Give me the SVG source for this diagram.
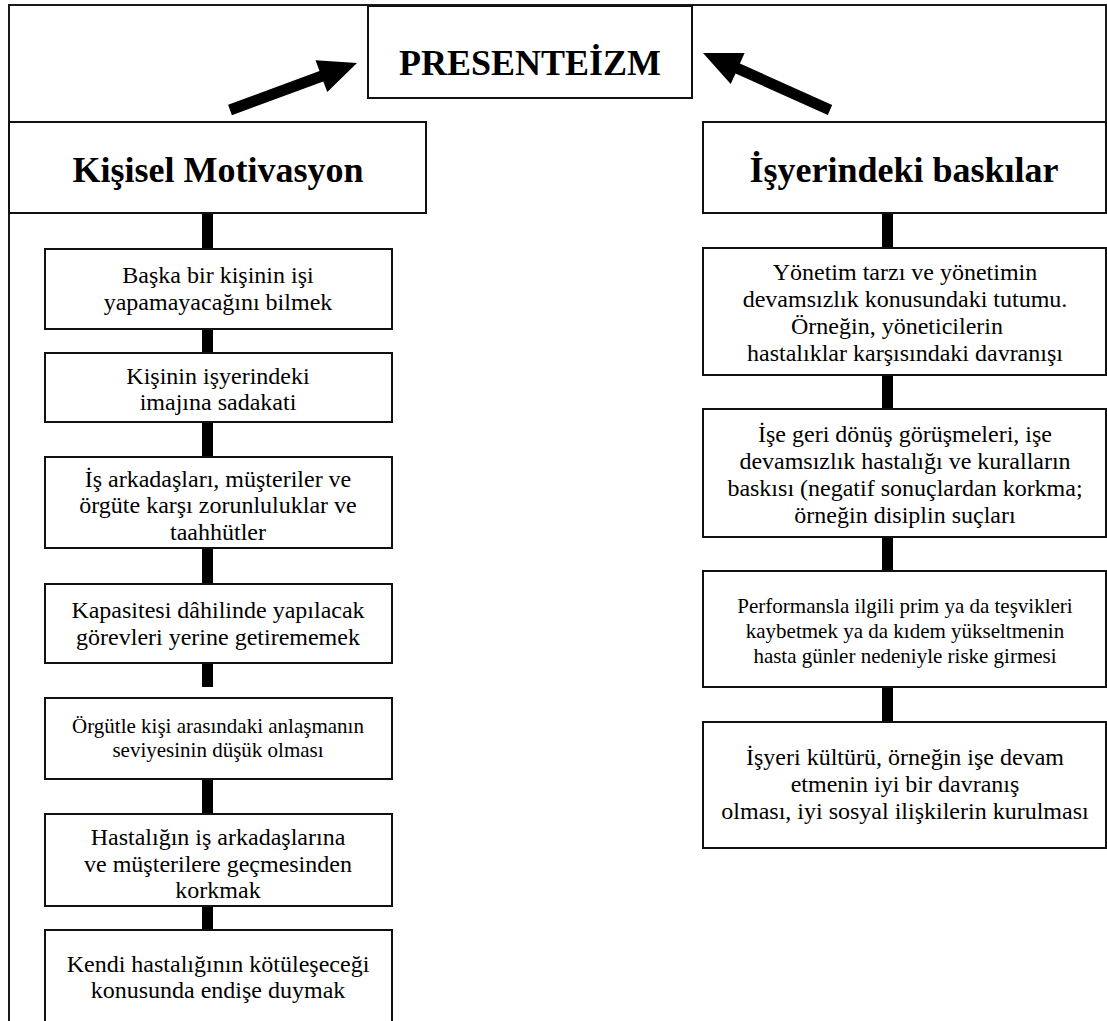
<svg xmlns="http://www.w3.org/2000/svg" width="1107" height="1021" viewBox="0 0 1107 1021">
<style>
.box{fill:#fff;stroke:#111;stroke-width:2}
.frame{fill:none;stroke:#1a1a1a;stroke-width:2}
.t{font-family:"Liberation Serif","Times New Roman",serif;fill:#000;text-anchor:middle}
.n{font-size:24px}
.s{font-size:21px}
.h{font-size:36px;font-weight:bold}
.bar{fill:#000}
</style>
<rect width="1107" height="1021" fill="#fff"/>
<g id="frame">
<path class="frame" d="M9,1021 V5 H1106 V122"/>
</g>
<g id="connectors">
<polygon class="bar" points="231.9,115.2 323.3,81.4 327.3,92.1 357,63 315.5,60.3 319.5,71 228.1,104.8"/>
<polygon class="bar" points="827.8,115 735.5,73.5 730.7,84 703,53 744.6,53 739.9,63.5 832.2,105"/>
<rect class="bar" x="202" y="213" width="11" height="35"/>
<rect class="bar" x="202" y="329" width="11" height="24"/>
<rect class="bar" x="202" y="422" width="11" height="35"/>
<rect class="bar" x="202" y="548" width="11" height="36"/>
<rect class="bar" x="202" y="663" width="11" height="24"/>
<rect class="bar" x="202" y="779" width="11" height="35"/>
<rect class="bar" x="202" y="906" width="11" height="24"/>
<rect class="bar" x="882" y="213" width="11" height="35"/>
<rect class="bar" x="882" y="375" width="11" height="34"/>
<rect class="bar" x="882" y="537" width="11" height="34"/>
<rect class="bar" x="882" y="687" width="11" height="35"/>
</g>
<g id="presenteizm">
<rect class="box" x="368" y="6" width="324" height="92"/>
<text class="t h" x="530" y="75">PRESENTEİZM</text>
</g>
<g id="kisisel-motivasyon">
<rect class="box" x="9" y="122" width="417" height="91"/>
<text class="t h" x="218" y="182">Kişisel Motivasyon</text>
</g>
<g id="isyerindeki-baskilar">
<rect class="box" x="703" y="122" width="403" height="91"/>
<text class="t h" x="904" y="182">İşyerindeki baskılar</text>
</g>
<g id="l1">
<rect class="box" x="45" y="249" width="347" height="80"/>
<text class="t n" x="218" y="283">Başka bir kişinin işi</text>
<text class="t n" x="218" y="310">yapamayacağını bilmek</text>
</g>
<g id="l2">
<rect class="box" x="45" y="353" width="347" height="69"/>
<text class="t n" x="218" y="384">Kişinin işyerindeki</text>
<text class="t n" x="218" y="410">imajına sadakati</text>
</g>
<g id="l3">
<rect class="box" x="45" y="457" width="347" height="91"/>
<text class="t n" x="218" y="487">İş arkadaşları, müşteriler ve</text>
<text class="t n" x="218" y="513">örgüte karşı zorunluluklar ve</text>
<text class="t n" x="218" y="540">taahhütler</text>
</g>
<g id="l4">
<rect class="box" x="45" y="584" width="347" height="79"/>
<text class="t n" x="218" y="618">Kapasitesi dâhilinde yapılacak</text>
<text class="t n" x="218" y="645">görevleri yerine getirememek</text>
</g>
<g id="l5">
<rect class="box" x="45" y="698" width="347" height="81"/>
<text class="t s" x="218" y="733">Örgütle kişi arasındaki anlaşmanın</text>
<text class="t s" x="218" y="757">seviyesinin düşük olması</text>
</g>
<g id="l6">
<rect class="box" x="45" y="814" width="347" height="92"/>
<text class="t n" x="218" y="845">Hastalığın iş arkadaşlarına</text>
<text class="t n" x="218" y="872">ve müşterilere geçmesinden</text>
<text class="t n" x="218" y="898">korkmak</text>
</g>
<g id="l7">
<rect class="box" x="45" y="930" width="347" height="100"/>
<text class="t n" x="218" y="972">Kendi hastalığının kötüleşeceği</text>
<text class="t n" x="218" y="998">konusunda endişe duymak</text>
</g>
<g id="r1">
<rect class="box" x="703" y="248" width="403" height="127"/>
<text class="t n" x="905" y="280">Yönetim tarzı ve yönetimin</text>
<text class="t n" x="905" y="307">devamsızlık konusundaki tutumu.</text>
<text class="t n" x="897" y="334">Örneğin, yöneticilerin</text>
<text class="t n" x="905" y="361">hastalıklar karşısındaki davranışı</text>
</g>
<g id="r2">
<rect class="box" x="703" y="409" width="403" height="128"/>
<text class="t n" x="905" y="442">İşe geri dönüş görüşmeleri, işe</text>
<text class="t n" x="905" y="469">devamsızlık hastalığı ve kuralların</text>
<text class="t n" x="905" y="496">baskısı (negatif sonuçlardan korkma;</text>
<text class="t n" x="905" y="523">örneğin disiplin suçları</text>
</g>
<g id="r3">
<rect class="box" x="703" y="571" width="403" height="116"/>
<text class="t s" x="905" y="613">Performansla ilgili prim ya da teşvikleri</text>
<text class="t s" x="905" y="638">kaybetmek ya da kıdem yükseltmenin</text>
<text class="t s" x="905" y="663">hasta günler nedeniyle riske girmesi</text>
</g>
<g id="r4">
<rect class="box" x="703" y="722" width="403" height="126"/>
<text class="t n" x="905" y="765">İşyeri kültürü, örneğin işe devam</text>
<text class="t n" x="905" y="792">etmenin iyi bir davranış</text>
<text class="t n" x="905" y="819">olması, iyi sosyal ilişkilerin kurulması</text>
</g>
</svg>
